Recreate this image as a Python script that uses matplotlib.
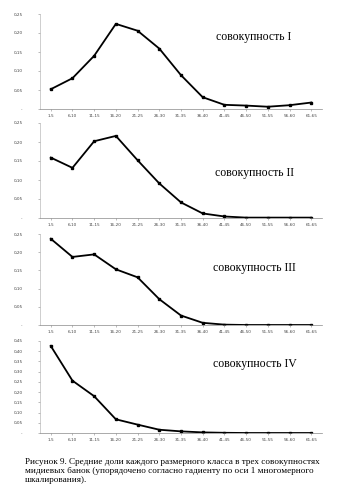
import matplotlib
matplotlib.use('Agg')
import matplotlib.pyplot as plt

# размерные классы
classes = ['1-5', '6-10', '11-15', '16-20', '21-25', '26-30', '31-35',
           '36-40', '41-45', '46-50', '51-55', '56-60', '61-65']

# средние доли для каждой совокупности
pop_1 = [0.052, 0.081, 0.140, 0.224, 0.206, 0.159, 0.089, 0.031, 0.011, 0.009, 0.006, 0.010, 0.017]
pop_2 = [0.159, 0.132, 0.202, 0.216, 0.152, 0.091, 0.041, 0.012, 0.004, 0.001, 0.001, 0.001, 0.001]
pop_3 = [0.237, 0.187, 0.194, 0.153, 0.131, 0.071, 0.026, 0.006, 0.001, 0.000, 0.000, 0.000, 0.000]
pop_4 = [0.426, 0.256, 0.180, 0.067, 0.041, 0.016, 0.008, 0.003, 0.001, 0.000, 0.000, 0.000, 0.000]

names = ['совокупность I', 'совокупность II', 'совокупность III', 'совокупность IV']
y_max = [0.25, 0.25, 0.25, 0.45]

caption = ('Рисунок 9. Средние доли каждого размерного класса в трех совокупностях\n'
           'мидиевых банок (упорядочено согласно гадиенту по оси 1 многомерного\n'
           'шкалирования).')

# ---------------------------------------------------------------------------------------
"""размещение панелей (в долях фигуры)"""
panel_box = [[0.118, 0.782, 0.835, 0.190],
             [0.118, 0.564, 0.835, 0.190],
             [0.118, 0.350, 0.835, 0.182],
             [0.118, 0.134, 0.835, 0.184]]
label_pos = [[0.64, 0.926], [0.635, 0.654], [0.63, 0.464], [0.63, 0.272]]

fig = plt.figure(figsize=(3.38, 5.0), dpi=100)
fig.patch.set_facecolor('white')

for e, values in enumerate([pop_1, pop_2, pop_3, pop_4]):
    ax = fig.add_axes(panel_box[e])
    x = list(range(len(classes)))
    ax.plot(x, values, color='black', linewidth=1.3, marker='s', markersize=1.8)
    ax.set_xlim(-0.5, len(classes) - 0.5)
    ax.set_ylim(0, y_max[e])

    ticks = [i * 0.05 for i in range(int(round(y_max[e] / 0.05)) + 1)]
    tick_labels = ['-'] + ['{:.2f}'.format(t).replace('.', ',') for t in ticks[1:]]
    ax.set_yticks(ticks)
    ax.set_yticklabels(tick_labels, fontsize=3, color='#444444')
    ax.set_xticks(x)
    ax.set_xticklabels(classes, fontsize=3, color='#444444')
    ax.tick_params(axis='both', length=1.5, width=0.4, colors='#888888', pad=2)
    ax.tick_params(axis='y', pad=11)
    for lbl in ax.get_xticklabels() + ax.get_yticklabels():
        lbl.set_color('#444444')

    for side in ['top', 'right']:
        ax.spines[side].set_visible(False)
    ax.spines['left'].set_color('#aaaaaa')
    ax.spines['left'].set_linewidth(0.4)
    ax.spines['bottom'].set_color('#888888')
    ax.spines['bottom'].set_linewidth(0.5)

    fig.text(label_pos[e][0], label_pos[e][1], names[e], fontsize=8.5,
             family='Liberation Serif', va='center')

fig.text(0.074, 0.084, caption, fontsize=6.6, family='Liberation Serif',
         va='top', linespacing=1.2)

plt.savefig('out.png', dpi=100)
